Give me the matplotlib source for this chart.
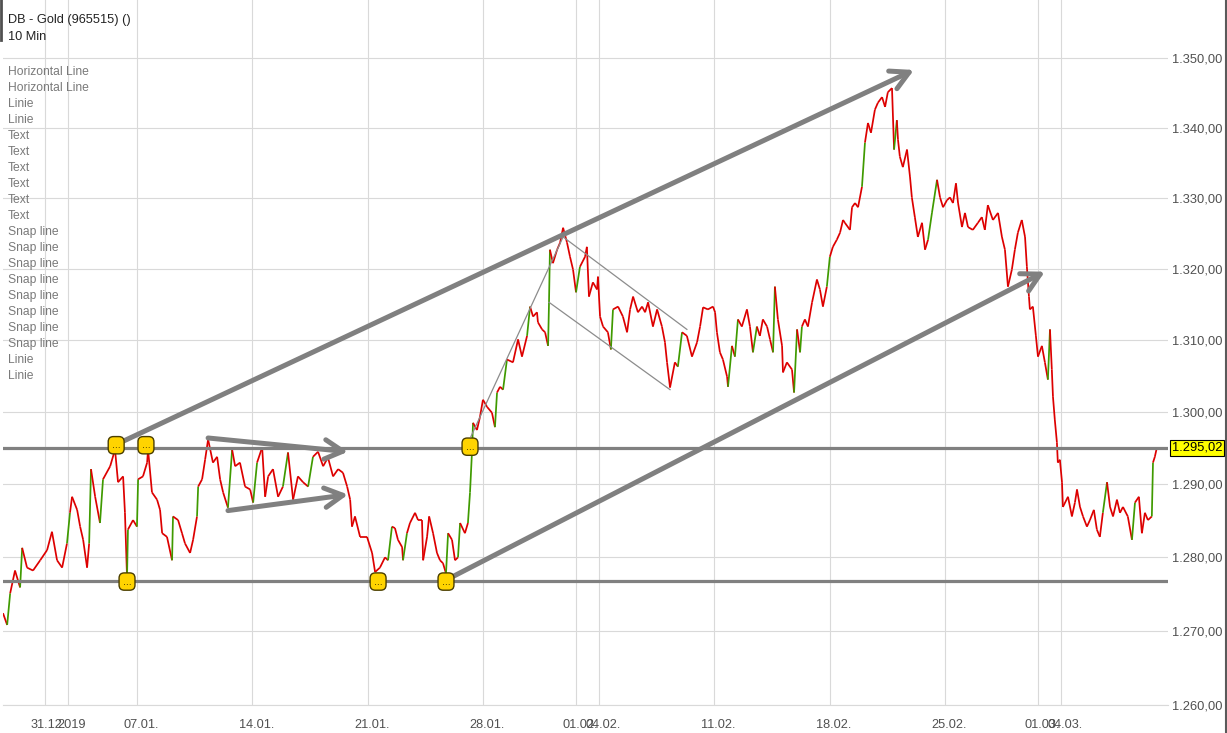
import matplotlib
matplotlib.use('Agg')
import matplotlib.pyplot as plt
import numpy as np
from matplotlib.collections import LineCollection
from matplotlib.lines import Line2D
from matplotlib.ticker import NullLocator, FixedFormatter
from matplotlib.transforms import ScaledTranslation

# ------------------------------------------------------------------
# data (x = trading day index, 0 = 31.12.2018; y = price)
# ------------------------------------------------------------------
days = [-1.80, -1.62, -1.49, -1.28, -1.06, -0.97, -0.76, -0.50, -0.19, 0.11,
        0.32, 0.54, 0.76, 0.97, 1.10, 1.19, 1.41, 1.54, 1.67, 1.84,
        1.93, 2.01, 2.19, 2.40, 2.53, 2.84, 3.05, 3.18, 3.40, 3.48,
        3.57, 3.61, 3.83, 4.00, 4.05, 4.26, 4.44, 4.48, 4.65, 4.87,
        5.00, 5.09, 5.30, 5.52, 5.56, 5.78, 5.95, 6.08, 6.30, 6.43,
        6.60, 6.65, 6.82, 6.95, 7.08, 7.29, 7.47, 7.60, 7.73, 7.94,
        8.12, 8.25, 8.46, 8.68, 8.90, 9.03, 9.20, 9.42, 9.55, 9.68,
        9.89, 10.11, 10.32, 10.54, 10.76, 10.97, 11.19, 11.41, 11.62, 11.84,
        12.06, 12.27, 12.49, 12.71, 12.92, 13.10, 13.23, 13.31, 13.44, 13.66,
        13.96, 14.18, 14.31, 14.52, 14.74, 14.87, 15.04, 15.17, 15.30, 15.48,
        15.52, 15.69, 15.82, 16.04, 16.17, 16.34, 16.39, 16.56, 16.65, 16.82,
        16.99, 17.12, 17.25, 17.38, 17.47, 17.64, 17.77, 17.90, 17.99, 18.20,
        18.33, 18.42, 18.51, 18.55, 18.72, 18.85, 18.98, 19.16, 19.37, 19.50,
        19.59, 19.72, 19.85, 20.02, 20.28, 20.50, 20.67, 20.89, 21.02, 21.15,
        21.32, 21.36, 21.54, 21.67, 21.80, 21.84, 21.88, 22.01, 22.19, 22.32,
        22.45, 22.62, 22.75, 22.88, 23.01, 23.18, 23.40, 23.48, 23.57, 23.74,
        23.92, 23.96, 24.05, 24.18, 24.39, 24.52, 24.61, 24.83, 25.04, 25.22,
        25.35, 25.48, 25.69, 25.87, 26.00, 26.13, 26.34, 26.52, 26.73, 26.86,
        26.95, 27.08, 27.29, 27.42, 27.60, 27.81, 28.03, 28.25, 28.38, 28.51,
        28.72, 28.94, 29.03, 29.11, 29.24, 29.37, 29.55, 29.59, 29.76, 29.89,
        30.02, 30.19, 30.41, 30.54, 30.67, 30.84, 30.97, 31.10, 31.28, 31.41,
        31.54, 31.62, 31.75, 31.93, 31.97, 32.14, 32.36, 32.45, 32.58, 32.71,
        32.79, 32.92, 33.05, 33.23, 33.44, 33.57, 33.70, 33.87, 34.00, 34.13,
        34.30, 34.44, 34.57, 34.65, 34.87, 34.96, 35.09, 35.22, 35.39, 35.52,
        35.65, 35.78, 35.95, 36.08, 36.26, 36.39, 36.51, 36.69, 36.78, 36.90,
        36.95, 37.03, 37.16, 37.34, 37.47, 37.55, 37.68, 37.81, 37.99, 38.12,
        38.25, 38.42, 38.64, 38.77, 38.90, 39.07, 39.20, 39.33, 39.46, 39.55,
        39.72, 39.85, 39.98, 40.19, 40.41, 40.58, 40.71, 40.84, 41.06, 41.28,
        41.45, 41.58, 41.71, 41.88, 42.01, 42.14, 42.31, 42.45, 42.53, 42.62,
        42.66, 42.79, 42.92, 43.01, 43.18, 43.31, 43.44, 43.53, 43.61, 43.66,
        43.74, 43.83, 43.87, 43.96, 44.05, 44.09, 44.31, 44.48, 44.61, 44.70,
        44.83, 44.96, 45.13, 45.26, 45.43, 45.56, 45.69, 45.82, 46.00, 46.13,
        46.26, 46.43, 46.56, 46.69, 46.90, 47.08, 47.21, 47.38, 47.51, 47.64,
        47.77, 47.94, 47.99, 48.07, 48.16]

prices = [1272.4, 1270.8, 1275.1, 1278.2, 1275.9, 1281.3, 1278.6, 1278.2, 1279.6, 1281.0,
          1283.5, 1279.6, 1278.6, 1281.9, 1286.1, 1288.3, 1286.5, 1284.2, 1282.4, 1278.6,
          1281.9, 1292.1, 1288.3, 1284.7, 1290.7, 1292.5, 1294.8, 1290.3, 1291.1, 1286.1,
          1277.3, 1283.8, 1285.1, 1284.2, 1290.7, 1291.1, 1293.0, 1294.8, 1288.9, 1287.9,
          1286.5, 1283.3, 1282.8, 1279.6, 1285.6, 1285.1, 1283.3, 1281.9, 1280.6, 1282.4,
          1285.6, 1289.7, 1290.7, 1293.4, 1296.2, 1293.0, 1293.8, 1290.7, 1288.9, 1286.8,
          1294.8, 1292.5, 1293.0, 1289.7, 1289.3, 1287.5, 1293.0, 1295.1, 1288.3, 1291.1,
          1292.1, 1288.3, 1289.7, 1294.4, 1287.9, 1291.1, 1290.3, 1289.7, 1293.8, 1294.5,
          1292.5, 1293.7, 1291.1, 1292.1, 1291.6, 1289.7, 1287.9, 1284.2, 1285.6, 1282.8,
          1282.8, 1280.6, 1278.0, 1278.6, 1280.0, 1279.6, 1284.2, 1284.0, 1282.4, 1281.4,
          1279.6, 1283.3, 1284.7, 1286.1, 1285.1, 1285.1, 1279.6, 1282.8, 1285.6, 1283.3,
          1280.6, 1279.6, 1279.2, 1277.8, 1283.3, 1282.4, 1279.6, 1280.0, 1284.7, 1283.3,
          1284.7, 1288.9, 1294.8, 1298.5, 1297.5, 1299.3, 1301.7, 1300.7, 1299.9, 1297.9,
          1302.7, 1303.5, 1303.1, 1307.3, 1306.9, 1310.1, 1307.7, 1310.6, 1314.7, 1313.3,
          1313.9, 1312.5, 1311.5, 1311.1, 1309.2, 1315.3, 1322.7, 1320.8, 1322.7, 1323.7,
          1325.8, 1323.7, 1321.7, 1319.9, 1316.7, 1320.3, 1321.7, 1323.1, 1316.1, 1318.1,
          1317.1, 1318.9, 1313.3, 1311.9, 1311.1, 1308.7, 1314.3, 1314.7, 1313.3, 1311.1,
          1314.3, 1316.1, 1313.9, 1314.7, 1313.9, 1315.3, 1311.9, 1314.3, 1311.9, 1309.7,
          1306.9, 1303.4, 1306.9, 1306.3, 1311.1, 1310.6, 1307.7, 1309.7, 1311.9, 1314.6,
          1314.3, 1314.7, 1313.9, 1311.1, 1308.3, 1307.3, 1304.9, 1303.5, 1309.2, 1307.7,
          1312.9, 1311.9, 1314.3, 1311.9, 1308.3, 1311.9, 1310.6, 1312.9, 1311.9, 1310.1,
          1308.3, 1317.5, 1312.9, 1309.2, 1305.5, 1306.9, 1305.9, 1302.7, 1311.5, 1308.3,
          1311.9, 1312.9, 1311.9, 1315.3, 1318.5, 1317.1, 1314.7, 1317.5, 1321.7, 1323.1,
          1324.1, 1325.1, 1326.9, 1326.5, 1325.5, 1328.7, 1329.3, 1328.7, 1331.6, 1337.9,
          1340.7, 1339.3, 1342.6, 1343.6, 1344.4, 1343.0, 1345.1, 1345.7, 1336.9, 1341.1,
          1338.3, 1335.9, 1334.4, 1336.9, 1333.0, 1330.1, 1327.3, 1324.5, 1326.5, 1322.7,
          1324.1, 1327.9, 1332.6, 1330.1, 1328.7, 1329.7, 1330.1, 1329.3, 1332.1, 1329.3,
          1325.9, 1327.9, 1325.9, 1325.5, 1326.5, 1327.3, 1325.5, 1329.0, 1326.9, 1327.9,
          1324.5, 1322.7, 1317.5, 1319.9, 1322.7, 1325.1, 1326.9, 1324.5, 1320.3, 1316.1,
          1314.3, 1314.7, 1310.6, 1307.7, 1309.2, 1306.9, 1304.5, 1311.5, 1305.9, 1302.1,
          1298.9, 1295.8, 1293.0, 1293.4, 1290.3, 1286.9, 1288.3, 1285.6, 1287.5, 1289.3,
          1286.9, 1285.6, 1284.2, 1285.1, 1286.5, 1283.8, 1282.8, 1286.1, 1290.3, 1286.9,
          1285.6, 1287.9, 1286.1, 1286.9, 1285.6, 1282.4, 1287.5, 1288.3, 1283.3, 1286.1,
          1285.1, 1285.6, 1293.0, 1293.8, 1295.1]

date_ticks = [0, 1, 4, 9, 14, 19, 23, 24, 29, 34, 39, 43, 44]
date_labels = ['31.12.', '2019', '07.01.', '14.01.', '21.01.', '28.01.', '01.02.',
               '04.02.', '11.02.', '18.02.', '25.02.', '01.03.', '04.03.']
price_ticks = [1260, 1270, 1280, 1290, 1300, 1310, 1320, 1330, 1340, 1350]

last_price = 1295.02
support = 1276.8

# drawn tools: (start day, start price, end day, end price)
arrows = [(3.10, 1295.5, 37.64, 1348.3),
          (17.38, 1276.9, 43.31, 1319.6),
          (7.08, 1296.4, 13.14, 1294.5),
          (7.94, 1286.4, 13.14, 1288.6)]
thin_lines = [(18.46, 1296.6, 22.45, 1324.5),
              (22.45, 1324.5, 27.81, 1311.5),
              (21.84, 1315.3, 27.08, 1303.1)]
marker_days = [3.10, 4.39, 3.57, 14.44, 17.38, 18.42]
marker_prices = [1295.4, 1295.4, 1276.7, 1276.7, 1276.7, 1295.2]

tool_names = ['Horizontal Line', 'Horizontal Line', 'Linie', 'Linie',
              'Text', 'Text', 'Text', 'Text', 'Text', 'Text',
              'Snap line', 'Snap line', 'Snap line', 'Snap line',
              'Snap line', 'Snap line', 'Snap line', 'Snap line',
              'Linie', 'Linie']


def fmt_de(v):
    return '{:,.2f}'.format(v).replace(',', 'X').replace('.', ',').replace('X', '.')


def main():
    plt.rcParams['font.family'] = ['Liberation Sans', 'DejaVu Sans']
    W, H = 1227, 733
    fig = plt.figure(figsize=(W / 100, H / 100), dpi=100)
    ax = fig.add_axes([3 / W, 28 / H, 1165 / W, 705 / H])

    ax.set_yscale('log')
    ax.set_ylim(1260, 1358.4)
    ax.set_xlim(-1.80, 48.64)

    ax.set_yticks(price_ticks)
    ax.yaxis.set_minor_locator(NullLocator())
    ax.yaxis.set_major_formatter(FixedFormatter([fmt_de(v) for v in price_ticks]))
    ax.yaxis.tick_right()
    ax.set_xticks(date_ticks)
    ax.set_xticklabels(date_labels)
    ax.tick_params(axis='y', length=0, pad=3, labelsize=9.3, labelcolor='#505050')
    ax.tick_params(axis='x', length=0, pad=10, labelsize=9.2, labelcolor='#505050')
    off = ScaledTranslation(4 / 100, 0, fig.dpi_scale_trans)
    for lab in ax.get_xticklabels():
        lab.set_transform(lab.get_transform() + off)
    ax.grid(True, color='#d9d9d9', lw=0.8, zorder=0)
    ax.set_axisbelow(True)
    for s in ['top', 'left', 'right']:
        ax.spines[s].set_visible(False)
    ax.spines['bottom'].set_color('#d9d9d9')

    # price path: red by default, green only on clear up moves
    x = np.array(days)
    y = np.array(prices)
    segs = np.stack([np.column_stack([x[:-1], y[:-1]]), np.column_stack([x[1:], y[1:]])], axis=1)
    cols = ['#3f9a00' if b - a > 3.5 else '#dd0000' for a, b in zip(y[:-1], y[1:])]
    ax.add_collection(LineCollection(segs, colors=cols, linewidths=1.25, zorder=3))

    # horizontal lines
    ax.axhline(last_price, color='#808080', lw=2.3, zorder=4)
    ax.axhline(support, color='#808080', lw=2.3, zorder=4)

    for x0, y0, x1, y1 in thin_lines:
        ax.plot([x0, x1], [y0, y1], color='#8c8c8c', lw=0.9, zorder=4)

    for x0, y0, x1, y1 in arrows:
        ax.annotate('', xy=(x1, y1), xytext=(x0, y0),
                    arrowprops=dict(arrowstyle='->,head_length=1.3,head_width=0.7',
                                    color='#808080', lw=3.6, shrinkA=0, shrinkB=0,
                                    mutation_scale=10, capstyle='round', joinstyle='round'),
                    zorder=5)

    for mx, my in zip(marker_days, marker_prices):
        ax.text(mx, my, '...', fontsize=7.5, ha='center', va='center', color='#2a2200',
                zorder=6,
                bbox=dict(boxstyle='round,pad=0.35,rounding_size=0.5', fc='#ffd400',
                          ec='#4a3e00', lw=1.0))

    # last price tag on the axis
    ax.annotate(fmt_de(last_price), xy=(1, last_price), xycoords=('axes fraction', 'data'),
                xytext=(4, 0), textcoords='offset pixels', ha='left', va='center',
                fontsize=9.3, color='black', annotation_clip=False,
                bbox=dict(boxstyle='square,pad=0.12', fc='#ffff00', ec='black', lw=0.8))

    # header and tool list
    fig.text(8 / W, 1 - 20 / H, 'DB - Gold (965515) ()', fontsize=9.2, color='#222222', va='center')
    fig.text(8 / W, 1 - 37 / H, '10 Min', fontsize=9.2, color='#222222', va='center')
    for i, name in enumerate(tool_names):
        fig.text(8 / W, 1 - (72 + 16 * i) / H, name, fontsize=8.7, color='#7a7a7a', va='center')

    fig.add_artist(Line2D([1225.5 / W, 1225.5 / W], [0, 1], color='#5a5a5a', lw=1.5))
    fig.add_artist(Line2D([1 / W, 1 / W], [1 - 40 / H, 1], color='#505050', lw=2))

    fig.savefig('out.png', dpi=100)


if __name__ == '__main__':
    main()
